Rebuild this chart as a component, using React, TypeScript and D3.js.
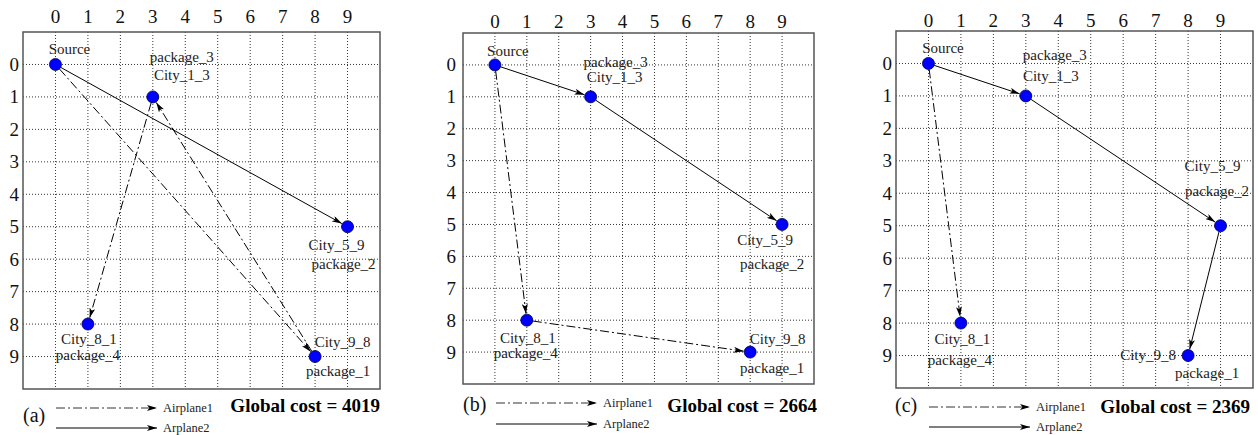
import React from "react";
import * as d3 from "d3";

// ---------- data ----------
const nodeNames = ["Source", "City_1_3", "City_5_9", "City_8_1", "City_9_8"];
const nodeRows = [0, 1, 5, 8, 9];
const nodeCols = [0, 3, 9, 1, 8];
const nodePackages = ["", "package_3", "package_2", "package_4", "package_1"];
const xTickLabels = ["0", "1", "2", "3", "4", "5", "6", "7", "8", "9"];
const yTickLabels = ["0", "1", "2", "3", "4", "5", "6", "7", "8", "9"];
// routes as node indices, one per panel
const airplane1Routes = [
  [0, 4, 1, 3],
  [0, 3, 4],
  [0, 3],
];
const airplane2Routes = [
  [0, 2],
  [0, 1, 2],
  [0, 1, 2, 4],
];
const globalCosts = [4019, 2664, 2369];
const panelTags = ["(a)", "(b)", "(c)"];
const legendLabels = ["Airplane1", "Arplane2"];

// ---------- layout ----------
type Panel = {
  left: number;
  top: number;
  size: number;
  xLabDy: number;
  yLabDx: number;
  legY1: number;
  legY2: number;
  tagX: number;
  tagY: number;
  costY: number;
  costRight: number;
  // label offsets per node: [cityDx, cityDy, pkgDx, pkgDy]
  labels: number[][];
};

const panels: Panel[] = [
  {
    left: 23, top: 32, size: 357, xLabDy: -9, yLabDx: -4,
    legY1: 408, legY2: 428, tagX: 23, tagY: 422, costY: 412, costRight: 380,
    labels: [
      [14, -10, 0, 0],
      [29, -17, 29, -35],
      [-11, 23, -4, 42],
      [1, 20, 0, 36],
      [27.5, -10, 23, 19],
    ],
  },
  {
    left: 463, top: 33, size: 351, xLabDy: -5, yLabDx: -7,
    legY1: 403, legY2: 424, tagX: 463, tagY: 411, costY: 412, costRight: 817,
    labels: [
      [13, -9, 0, 0],
      [24, -15, 25, -30],
      [-17, 21, -10, 45],
      [1, 23, -1, 38],
      [27.5, -8, 22, 21],
    ],
  },
  {
    left: 896, top: 31, size: 357, xLabDy: -4, yLabDx: -4,
    legY1: 407, legY2: 427, tagX: 895, tagY: 412, costY: 413, costRight: 1250,
    labels: [
      [14.5, -10, 0, 0],
      [25, -15, 29, -36],
      [-8, -55, -3.5, -30],
      [1.5, 21, -1, 42],
      [-40, 4.5, 19, 22],
    ],
  },
];

const SERIF = "Liberation Serif, Times New Roman, Times, Nimbus Roman, DejaVu Serif, Noto Serif, serif";
const R = 6;
const DASHDOT = "9,3,2,3";

function PanelView({ p, i }: { p: Panel; i: number }) {
  const x = d3.scaleLinear().domain([-1, 10]).range([p.left, p.left + p.size]);
  const y = d3.scaleLinear().domain([-1, 10]).range([p.top, p.top + p.size]);
  const ticks = d3.range(0, 10);

  const seg = (a: number, b: number) => {
    const x1 = x(nodeCols[a]), y1 = y(nodeRows[a]);
    const x2 = x(nodeCols[b]), y2 = y(nodeRows[b]);
    const len = Math.hypot(x2 - x1, y2 - y1);
    const ux = (x2 - x1) / len, uy = (y2 - y1) / len;
    return {
      x1: x1 + ux * R, y1: y1 + uy * R,
      x2: x2 - ux * (R + 0.5), y2: y2 - uy * (R + 0.5),
    };
  };

  const routeLines = (route: number[], dash: string | undefined, key: string) =>
    d3.pairs(route).map(([a, b], k) => {
      const s = seg(a, b);
      return (
        <line key={key + k} {...s} stroke="#000" strokeWidth={1}
          strokeDasharray={dash} markerEnd="url(#arrow)" />
      );
    });

  const legX1 = p.left + 33;
  const legX2 = p.left + 134;

  return (
    <g>
      {/* grid */}
      {ticks.map((t) => (
        <line key={"gx" + t} x1={x(t)} x2={x(t)} y1={p.top} y2={p.top + p.size}
          stroke="#333" strokeWidth={1} strokeDasharray="1,2" />
      ))}
      {ticks.map((t) => (
        <line key={"gy" + t} y1={y(t)} y2={y(t)} x1={p.left} x2={p.left + p.size}
          stroke="#333" strokeWidth={1} strokeDasharray="1,2" />
      ))}
      <rect x={p.left} y={p.top} width={p.size} height={p.size}
        fill="none" stroke="#555" strokeWidth={1.5} />
      {/* tick labels */}
      {ticks.map((t) => (
        <text key={"tx" + t} x={x(t)} y={p.top + p.xLabDy} textAnchor="middle"
          fontSize={19} fill="#111">{xTickLabels[t]}</text>
      ))}
      {ticks.map((t) => (
        <text key={"ty" + t} x={p.left + p.yLabDx} y={y(t) + 6.5} textAnchor="end"
          fontSize={19} fill="#111">{yTickLabels[t]}</text>
      ))}
      {/* routes */}
      {routeLines(airplane1Routes[i], DASHDOT, "a1")}
      {routeLines(airplane2Routes[i], undefined, "a2")}
      {/* nodes */}
      {nodeNames.map((n, k) => (
        <circle key={"n" + k} cx={x(nodeCols[k])} cy={y(nodeRows[k])} r={R}
          fill="#0000ff" stroke="#000044" strokeWidth={0.8} />
      ))}
      {nodeNames.map((n, k) => {
        const o = p.labels[k];
        const cx = x(nodeCols[k]), cy = y(nodeRows[k]);
        return (
          <g key={"l" + k} fontSize={15} fill="#222">
            <text x={cx + o[0]} y={cy + o[1]} textAnchor="middle">{n}</text>
            {nodePackages[k] && (
              <text x={cx + o[2]} y={cy + o[3]} textAnchor="middle">{nodePackages[k]}</text>
            )}
          </g>
        );
      })}
      {/* legend */}
      <text x={p.tagX} y={p.tagY} fontSize={20} fill="#111">{panelTags[i]}</text>
      <line x1={legX1} x2={legX2} y1={p.legY1} y2={p.legY1} stroke="#333"
        strokeWidth={1} strokeDasharray={DASHDOT} markerEnd="url(#arrow)" />
      <line x1={legX1} x2={legX2} y1={p.legY2} y2={p.legY2} stroke="#000"
        strokeWidth={1} markerEnd="url(#arrow)" />
      <text x={legX2 + 6} y={p.legY1 + 4} fontSize={12.5} fill="#222">{legendLabels[0]}</text>
      <text x={legX2 + 6} y={p.legY2 + 4} fontSize={12.5} fill="#222">{legendLabels[1]}</text>
      <text x={p.costRight} y={p.costY} textAnchor="end"
        fontSize={19} fontWeight="bold">{`Global cost = ${globalCosts[i]}`}</text>
    </g>
  );
}

export default function App() {
  return (
    <svg width={1258} height={435} viewBox="0 0 1258 435"
      style={{ position: "absolute", left: 0, top: 0, background: "#fff", fontFamily: SERIF }}>
      <defs>
        <marker id="arrow" viewBox="0 0 10 6" refX={10} refY={3}
          markerWidth={10} markerHeight={6} markerUnits="userSpaceOnUse" orient="auto">
          <path d="M0,0 L10,3 L0,6 L2.5,3 Z" fill="#000" />
        </marker>
      </defs>
      <rect width={1258} height={435} fill="#fff" />
      {panels.map((p, i) => (
        <PanelView key={i} p={p} i={i} />
      ))}
    </svg>
  );
}
